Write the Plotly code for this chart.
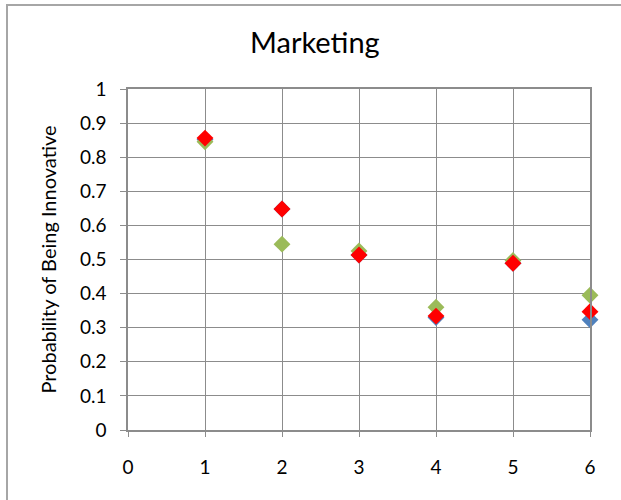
import plotly.graph_objects as go

# Tenure group (x) and estimated probability of being innovative for each model
x_vals = [1, 2, 3, 4, 5, 6]
series_blue = [0.852, 0.648, 0.513, 0.330, 0.489, 0.323]
series_green = [0.845, 0.545, 0.525, 0.360, 0.497, 0.395]
series_red = [0.856, 0.648, 0.513, 0.334, 0.489, 0.347]

x_ticks = [0, 1, 2, 3, 4, 5, 6]
y_ticks = [0, 0.1, 0.2, 0.3, 0.4, 0.5, 0.6, 0.7, 0.8, 0.9, 1]
y_labels = ["0", "0.1", "0.2", "0.3", "0.4", "0.5", "0.6", "0.7", "0.8", "0.9", "1"]

FONT = "Lato, Calibri, Carlito, sans-serif"
GRID = "#8c8c8c"

fig = go.Figure()
for vals, color in [(series_blue, "#4F81BD"), (series_green, "#9BBB59"), (series_red, "#FF0000")]:
    fig.add_trace(go.Scatter(
        x=x_vals, y=vals, mode="markers", cliponaxis=False,
        marker=dict(symbol="diamond", size=13, color=color, line=dict(width=0)),
        showlegend=False,
    ))

fig.update_layout(
    width=621, height=500,
    margin=dict(l=128, r=31, t=89, b=70),
    paper_bgcolor="white", plot_bgcolor="white",
    title=dict(text="Marketing", x=0.507, xanchor="center", y=1 - 43 / 500,
               yanchor="middle", yref="container",
               font=dict(family=FONT, size=29, color="#000000")),
    font=dict(family=FONT, color="#000000"),
)

fig.update_xaxes(
    range=[0, 6], tickvals=x_ticks, ticktext=[str(v) for v in x_ticks],
    showgrid=True, gridcolor=GRID, gridwidth=1,
    showline=True, linecolor=GRID, linewidth=1.5, mirror=True,
    ticks="outside", ticklen=5, tickcolor=GRID, ticklabelstandoff=14,
    zeroline=False, tickfont=dict(family=FONT, size=19, color="#000000"),
)
fig.update_yaxes(
    range=[0, 1], tickvals=y_ticks, ticktext=y_labels,
    showgrid=True, gridcolor=GRID, gridwidth=1,
    showline=True, linecolor=GRID, linewidth=1.5, mirror=True,
    ticks="outside", ticklen=6, tickcolor=GRID, ticklabelstandoff=10,
    zeroline=False, tickfont=dict(family=FONT, size=19, color="#000000"),
    title=dict(text="Probability of Being Innovative", standoff=18,
               font=dict(family=FONT, size=20, color="#000000")),
)

# Outer chart frame
fig.add_shape(type="rect", xref="paper", yref="paper",
              x0=(7 - 128) / 462, x1=(640 - 128) / 462,
              y0=(430 - 520) / 341, y1=(430 - 5) / 341,
              line=dict(color="#a6a6a6", width=2), fillcolor="rgba(0,0,0,0)",
              layer="below")

fig.write_html("out.html")
